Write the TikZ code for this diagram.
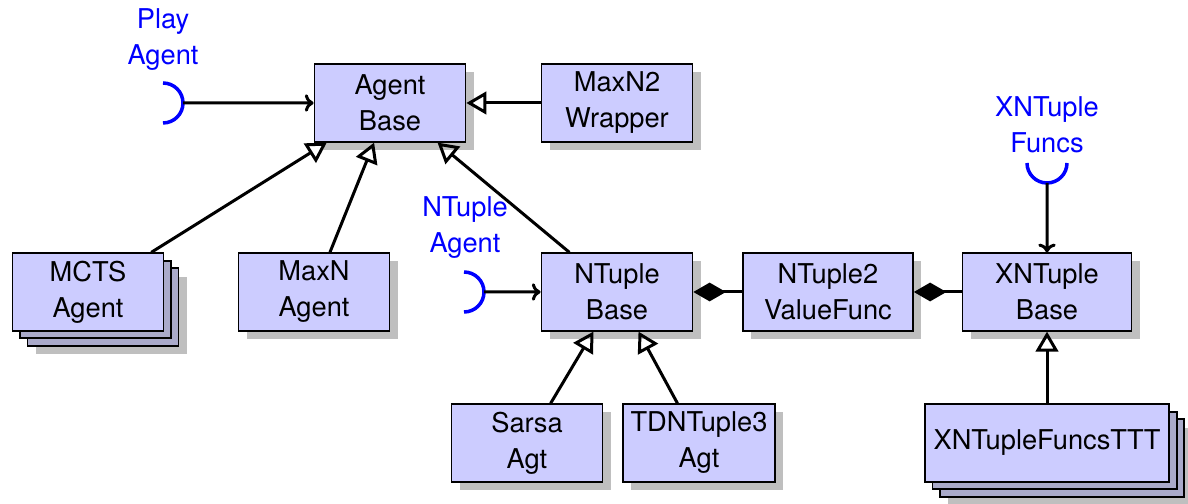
\documentclass[tikz,border=0pt]{standalone}
\usepackage{fontspec}
\setmainfont{TeX Gyre Heros}
\usetikzlibrary{shadows,arrows.meta}
\definecolor{clsfill}{RGB}{204,204,255}
\definecolor{copyfill}{RGB}{170,170,202}
\definecolor{shadowgray}{RGB}{191,191,191}
\definecolor{ifblue}{RGB}{0,0,255}
\tikzset{
  box/.style={draw=black, line width=0.7pt, fill=clsfill, minimum width=60.4pt,
    minimum height=31pt, inner sep=3pt, align=center,
    font=\fontsize{10.9}{14.4}\selectfont},
  cls/.style={box, general shadow={fill=shadowgray, shadow xshift=3.2pt, shadow yshift=-3.2pt}},
  multicls/.style={box,
    general shadow={fill=shadowgray, shadow xshift=9.4pt, shadow yshift=-9.4pt},
    general shadow={fill=copyfill, draw=black, line width=0.7pt, shadow xshift=6pt, shadow yshift=-6pt},
    general shadow={fill=copyfill, draw=black, line width=0.7pt, shadow xshift=3pt, shadow yshift=-3pt}},
  iflabel/.style={text=ifblue, align=center, font=\fontsize{10.9}{14.4}\selectfont},
  socket/.style={draw=ifblue, line width=1.4pt},
  use/.style={line width=1.2pt, -{To[length=3.5pt,width=7pt]}},
  inherit/.style={line width=1.2pt, -{Triangle[open,length=8pt,width=9pt,line width=1.2pt]}},
  comp/.style={line width=1.2pt, {Diamond[length=13pt,width=7.5pt]}-}
}
\begin{document}
\begin{tikzpicture}[x=0.4pt,y=-0.4pt]
  \useasboundingbox (0,0) rectangle (1188,504);
  % classes
  \node[cls] (AgentBase) at (390,103) {Agent\\Base};
  \node[cls] (MaxNWrapper) at (617,103) {MaxN2\\Wrapper};
  \node[multicls] (MCTSAgent) at (88,292) {MCTS\\Agent};
  \node[cls] (MaxNAgent) at (314,292) {MaxN\\Agent};
  \node[cls] (NTupleBase) at (617,292) {NTuple\\Base};
  \node[cls, minimum width=68pt] (NTupleVF) at (828,292) {NTuple2\\ValueFunc};
  \node[cls, minimum width=67.6pt] (XNTupleBase) at (1047,292) {XNTuple\\Base};
  \node[cls] (SarsaAgt) at (527,443) {Sarsa\\Agt};
  \node[cls] (TDNTupleAgt) at (699,443) {TDNTuple3\\Agt};
  \node[multicls, inner xsep=3.5pt] (XNTupleTTT) at (1047,443) {XNTupleFuncsTTT};
  % interfaces
  \node[iflabel] (PlayLbl) at (163,40) {Play\\Agent};
  \draw[socket] (163,83) arc[start angle=90, end angle=-90, radius=8pt] coordinate[pos=0.5] (PlaySock);
  \node[iflabel] (NTupleLbl) at (465,228) {NTuple\\Agent};
  \draw[socket] (464,272) arc[start angle=90, end angle=-90, radius=8pt] coordinate[pos=0.5] (NTupleSock);
  \node[iflabel] (XFuncsLbl) at (1047,125) {XNTuple\\Funcs};
  \draw[socket] (1027,163) arc[start angle=180, end angle=360, radius=8pt] coordinate[pos=0.5] (XFuncsSock);
  % connectors
  \draw[use] (PlaySock) -- (AgentBase);
  \draw[use] (NTupleSock) -- (NTupleBase);
  \draw[use] (XFuncsSock) -- (XNTupleBase);
  \draw[inherit] (MaxNWrapper) -- (AgentBase);
  \draw[inherit] (MCTSAgent) -- (AgentBase);
  \draw[inherit] (MaxNAgent) -- (AgentBase);
  \draw[inherit] (NTupleBase) -- (AgentBase);
  \draw[inherit] (SarsaAgt) -- (NTupleBase);
  \draw[inherit] (TDNTupleAgt) -- (NTupleBase);
  \draw[inherit] (XNTupleTTT) -- (XNTupleBase);
  \draw[comp] (NTupleBase) -- (NTupleVF);
  \draw[comp] (NTupleVF) -- (XNTupleBase);
\end{tikzpicture}
\end{document}
